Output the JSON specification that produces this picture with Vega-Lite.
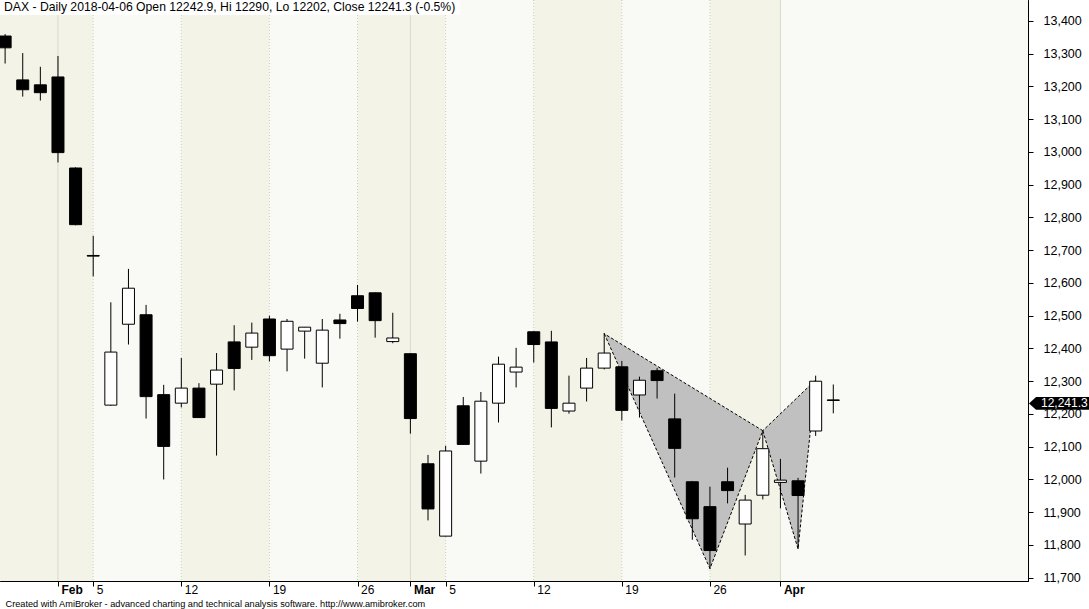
{
  "$schema": "https://vega.github.io/schema/vega-lite/v6.json",
  "width": 1028,
  "height": 581,
  "autosize": {"type": "none"},
  "padding": {"left": 0, "top": 0, "right": 61, "bottom": 28},
  "background": "white",
  "title": {
    "text": "DAX - Daily 2018-04-06 Open 12242.9, Hi 12290, Lo 12202, Close 12241.3 (-0.5%)",
    "anchor": "start",
    "orient": "top",
    "frame": "group",
    "offset": 0,
    "baseline": "alphabetic",
    "dx": 4,
    "dy": 23,
    "font": "Liberation Sans",
    "fontSize": 12.2,
    "fontWeight": "normal",
    "color": "black"
  },
  "config": {
    "view": {"stroke": "black", "strokeWidth": 1},
    "axis": {
      "labelFont": "Liberation Sans",
      "labelColor": "black",
      "labelFontSize": 12,
      "domainColor": "black",
      "tickColor": "black",
      "tickSize": 5,
      "grid": false,
      "labelOverlap": false,
      "labelFlush": false,
      "labelBound": false
    }
  },
  "datasets": {
    "ohlc": [
      {"i": 0, "date": "2018-01-29", "o": 13354, "h": 13360, "l": 13270, "c": 13318},
      {"i": 1, "date": "2018-01-30", "o": 13220, "h": 13302, "l": 13169, "c": 13190},
      {"i": 2, "date": "2018-01-31", "o": 13205, "h": 13260, "l": 13157, "c": 13181},
      {"i": 3, "date": "2018-02-01", "o": 13229, "h": 13293, "l": 12968, "c": 12998},
      {"i": 4, "date": "2018-02-02", "o": 12951, "h": 12953, "l": 12776, "c": 12778},
      {"i": 5, "date": "2018-02-05", "o": 12684, "h": 12744, "l": 12620, "c": 12682},
      {"i": 6, "date": "2018-02-06", "o": 12227, "h": 12541, "l": 12225, "c": 12389},
      {"i": 7, "date": "2018-02-07", "o": 12474, "h": 12643, "l": 12412, "c": 12584},
      {"i": 8, "date": "2018-02-08", "o": 12503, "h": 12533, "l": 12186, "c": 12253},
      {"i": 9, "date": "2018-02-09", "o": 12259, "h": 12289, "l": 12000, "c": 12101},
      {"i": 10, "date": "2018-02-12", "o": 12233, "h": 12371, "l": 12220, "c": 12279},
      {"i": 11, "date": "2018-02-13", "o": 12279, "h": 12294, "l": 12188, "c": 12189},
      {"i": 12, "date": "2018-02-14", "o": 12291, "h": 12386, "l": 12073, "c": 12334},
      {"i": 13, "date": "2018-02-15", "o": 12420, "h": 12471, "l": 12272, "c": 12339},
      {"i": 14, "date": "2018-02-16", "o": 12404, "h": 12479, "l": 12365, "c": 12447},
      {"i": 15, "date": "2018-02-19", "o": 12490, "h": 12500, "l": 12360, "c": 12378},
      {"i": 16, "date": "2018-02-20", "o": 12398, "h": 12490, "l": 12330, "c": 12483},
      {"i": 17, "date": "2018-02-21", "o": 12453, "h": 12465, "l": 12369, "c": 12465},
      {"i": 18, "date": "2018-02-22", "o": 12355, "h": 12490, "l": 12281, "c": 12456},
      {"i": 19, "date": "2018-02-23", "o": 12487, "h": 12506, "l": 12430, "c": 12476},
      {"i": 20, "date": "2018-02-26", "o": 12561, "h": 12594, "l": 12482, "c": 12522},
      {"i": 21, "date": "2018-02-27", "o": 12570, "h": 12571, "l": 12433, "c": 12485},
      {"i": 22, "date": "2018-02-28", "o": 12421, "h": 12509, "l": 12416, "c": 12432},
      {"i": 23, "date": "2018-03-01", "o": 12384, "h": 12385, "l": 12140, "c": 12186},
      {"i": 24, "date": "2018-03-02", "o": 12048, "h": 12075, "l": 11875, "c": 11910},
      {"i": 25, "date": "2018-03-05", "o": 11827, "h": 12103, "l": 11826, "c": 12087},
      {"i": 26, "date": "2018-03-06", "o": 12225, "h": 12252, "l": 12106, "c": 12107},
      {"i": 27, "date": "2018-03-07", "o": 12056, "h": 12267, "l": 12018, "c": 12239},
      {"i": 28, "date": "2018-03-08", "o": 12233, "h": 12375, "l": 12174, "c": 12352},
      {"i": 29, "date": "2018-03-09", "o": 12328, "h": 12402, "l": 12281, "c": 12343},
      {"i": 30, "date": "2018-03-12", "o": 12451, "h": 12452, "l": 12357, "c": 12412},
      {"i": 31, "date": "2018-03-13", "o": 12420, "h": 12454, "l": 12159, "c": 12217},
      {"i": 32, "date": "2018-03-14", "o": 12209, "h": 12317, "l": 12201, "c": 12233},
      {"i": 33, "date": "2018-03-15", "o": 12279, "h": 12371, "l": 12238, "c": 12340},
      {"i": 34, "date": "2018-03-16", "o": 12340, "h": 12447, "l": 12336, "c": 12386},
      {"i": 35, "date": "2018-03-19", "o": 12344, "h": 12362, "l": 12180, "c": 12211},
      {"i": 36, "date": "2018-03-20", "o": 12258, "h": 12314, "l": 12189, "c": 12303},
      {"i": 37, "date": "2018-03-21", "o": 12332, "h": 12340, "l": 12247, "c": 12302},
      {"i": 38, "date": "2018-03-22", "o": 12185, "h": 12262, "l": 12006, "c": 12095},
      {"i": 39, "date": "2018-03-23", "o": 11993, "h": 11995, "l": 11816, "c": 11880},
      {"i": 40, "date": "2018-03-26", "o": 11917, "h": 11978, "l": 11727, "c": 11783},
      {"i": 41, "date": "2018-03-27", "o": 11993, "h": 12036, "l": 11927, "c": 11966},
      {"i": 42, "date": "2018-03-28", "o": 11864, "h": 11953, "l": 11768, "c": 11937},
      {"i": 43, "date": "2018-03-29", "o": 11952, "h": 12149, "l": 11939, "c": 12094},
      {"i": 44, "date": "2018-04-03", "o": 11991, "h": 12063, "l": 11912, "c": 11998},
      {"i": 45, "date": "2018-04-04", "o": 11996, "h": 12005, "l": 11788, "c": 11951},
      {"i": 46, "date": "2018-04-05", "o": 12148, "h": 12317, "l": 12133, "c": 12300},
      {"i": 47, "date": "2018-04-06", "o": 12242.9, "h": 12290, "l": 12202, "c": 12241.3}
    ],
    "bands": [
      {"s": -1, "e": 5, "b": "dark"},
      {"s": 5, "e": 10, "b": "light"},
      {"s": 10, "e": 15, "b": "dark"},
      {"s": 15, "e": 20, "b": "light"},
      {"s": 20, "e": 25, "b": "dark"},
      {"s": 25, "e": 30, "b": "light"},
      {"s": 30, "e": 35, "b": "dark"},
      {"s": 35, "e": 40, "b": "light"},
      {"s": 40, "e": 44, "b": "dark"},
      {"s": 44, "e": 60, "b": "light"}
    ],
    "grid": [
      {"i": 3, "k": "month"},
      {"i": 5, "k": "week"},
      {"i": 10, "k": "week"},
      {"i": 15, "k": "week"},
      {"i": 20, "k": "week"},
      {"i": 23, "k": "month"},
      {"i": 25, "k": "week"},
      {"i": 30, "k": "week"},
      {"i": 35, "k": "week"},
      {"i": 40, "k": "week"},
      {"i": 44, "k": "month"}
    ],
    "pattern": [
      {"tri": "XAB", "ord": 1, "pt": "X", "i": 34, "p": 12445},
      {"tri": "XAB", "ord": 2, "pt": "A", "i": 40, "p": 11728},
      {"tri": "XAB", "ord": 3, "pt": "B", "i": 43, "p": 12149},
      {"tri": "XAB", "ord": 4, "pt": "X", "i": 34, "p": 12445},
      {"tri": "BCD", "ord": 1, "pt": "B", "i": 43, "p": 12149},
      {"tri": "BCD", "ord": 2, "pt": "C", "i": 45, "p": 11788},
      {"tri": "BCD", "ord": 3, "pt": "D", "i": 46, "p": 12304},
      {"tri": "BCD", "ord": 4, "pt": "B", "i": 43, "p": 12149}
    ]
  },
  "layer": [
    {
      "data": {"name": "bands"},
      "mark": {"type": "rect", "clip": true},
      "encoding": {
        "x": {"field": "s", "type": "quantitative", "scale": {"domain": [-0.29, 58.05], "nice": false, "zero": false, "padding": 0},
          "axis": {"orient": "bottom", "values": [3, 5, 10, 15, 20, 23, 25, 30, 35, 40, 44], "labelExpr": "datum.value==3?'Feb':datum.value==5?'5':datum.value==10?'12':datum.value==15?'19':datum.value==20?'26':datum.value==23?'Mar':datum.value==25?'5':datum.value==30?'12':datum.value==35?'19':datum.value==40?'26':datum.value==44?'Apr':''", "labelFontWeight": {"condition": {"test": "datum.value==3||datum.value==23||datum.value==44", "value": "bold"}, "value": "normal"}, "labelAlign": "left", "labelBaseline": "alphabetic", "labelOffset": 3, "labelPadding": 7, "title": "Created with AmiBroker - advanced charting and technical analysis software. http://www.amibroker.com", "titleFont": "Liberation Sans", "titleFontSize": 9.2, "titleFontWeight": "normal", "titleColor": "black", "titleAlign": "left", "titleAnchor": "start", "titleBaseline": "alphabetic", "titleX": 5, "titleY": 25}},
        "x2": {"field": "e"},
        "fill": {"condition": {"test": "datum.b=='dark'", "value": "#f3f3e8"}, "value": "#f9faf5"}
      }
    },
    {
      "data": {"name": "grid"},
      "mark": {"type": "rule", "strokeWidth": 1, "clip": true},
      "encoding": {
        "x": {"field": "i", "type": "quantitative", "scale": {"domain": [-0.29, 58.05], "nice": false, "zero": false, "padding": 0},
          "axis": {"orient": "bottom", "values": [3, 5, 10, 15, 20, 23, 25, 30, 35, 40, 44], "labelExpr": "datum.value==3?'Feb':datum.value==5?'5':datum.value==10?'12':datum.value==15?'19':datum.value==20?'26':datum.value==23?'Mar':datum.value==25?'5':datum.value==30?'12':datum.value==35?'19':datum.value==40?'26':datum.value==44?'Apr':''", "labelFontWeight": {"condition": {"test": "datum.value==3||datum.value==23||datum.value==44", "value": "bold"}, "value": "normal"}, "labelAlign": "left", "labelBaseline": "alphabetic", "labelOffset": 3, "labelPadding": 7, "title": "Created with AmiBroker - advanced charting and technical analysis software. http://www.amibroker.com", "titleFont": "Liberation Sans", "titleFontSize": 9.2, "titleFontWeight": "normal", "titleColor": "black", "titleAlign": "left", "titleAnchor": "start", "titleBaseline": "alphabetic", "titleX": 5, "titleY": 25}},
        "color": {"condition": {"test": "datum.k=='month'", "value": "#d8dbc4"}, "value": "#cdd0b4"},
        "strokeDash": {"condition": {"test": "datum.k=='week'", "value": [1, 2]}, "value": [1, 0]}
      }
    },
    {
      "data": {"name": "ohlc"},
      "transform": [{"filter": "datum.i == 47"}],
      "mark": {"type": "rect", "fill": "white", "clip": true},
      "encoding": {
        "x": {"datum": -1, "type": "quantitative", "scale": {"domain": [-0.29, 58.05], "nice": false, "zero": false, "padding": 0},
          "axis": {"orient": "bottom", "values": [3, 5, 10, 15, 20, 23, 25, 30, 35, 40, 44], "labelExpr": "datum.value==3?'Feb':datum.value==5?'5':datum.value==10?'12':datum.value==15?'19':datum.value==20?'26':datum.value==23?'Mar':datum.value==25?'5':datum.value==30?'12':datum.value==35?'19':datum.value==40?'26':datum.value==44?'Apr':''", "labelFontWeight": {"condition": {"test": "datum.value==3||datum.value==23||datum.value==44", "value": "bold"}, "value": "normal"}, "labelAlign": "left", "labelBaseline": "alphabetic", "labelOffset": 3, "labelPadding": 7, "title": "Created with AmiBroker - advanced charting and technical analysis software. http://www.amibroker.com", "titleFont": "Liberation Sans", "titleFontSize": 9.2, "titleFontWeight": "normal", "titleColor": "black", "titleAlign": "left", "titleAnchor": "start", "titleBaseline": "alphabetic", "titleX": 5, "titleY": 25}},
        "x2": {"datum": 25.8},
        "y": {"datum": 13600, "type": "quantitative", "scale": {"domain": [11690, 13464], "nice": false, "zero": false, "padding": 0},
          "axis": {"orient": "right", "values": [11700, 11800, 11900, 12000, 12100, 12200, 12300, 12400, 12500, 12600, 12700, 12800, 12900, 13000, 13100, 13200, 13300, 13400], "labelExpr": "format(datum.value, ',')", "labelFontSize": 12.5, "labelAlign": "left", "labelBaseline": "middle", "labelPadding": 10, "title": null}},
        "y2": {"datum": 13418}
      }
    },
    {
      "data": {"name": "pattern"},
      "mark": {"type": "line", "fill": "#c0c0c0", "stroke": "black", "strokeWidth": 1, "strokeDash": [3, 2], "interpolate": "linear"},
      "encoding": {
        "x": {"field": "i", "type": "quantitative", "scale": {"domain": [-0.29, 58.05], "nice": false, "zero": false, "padding": 0},
          "axis": {"orient": "bottom", "values": [3, 5, 10, 15, 20, 23, 25, 30, 35, 40, 44], "labelExpr": "datum.value==3?'Feb':datum.value==5?'5':datum.value==10?'12':datum.value==15?'19':datum.value==20?'26':datum.value==23?'Mar':datum.value==25?'5':datum.value==30?'12':datum.value==35?'19':datum.value==40?'26':datum.value==44?'Apr':''", "labelFontWeight": {"condition": {"test": "datum.value==3||datum.value==23||datum.value==44", "value": "bold"}, "value": "normal"}, "labelAlign": "left", "labelBaseline": "alphabetic", "labelOffset": 3, "labelPadding": 7, "title": "Created with AmiBroker - advanced charting and technical analysis software. http://www.amibroker.com", "titleFont": "Liberation Sans", "titleFontSize": 9.2, "titleFontWeight": "normal", "titleColor": "black", "titleAlign": "left", "titleAnchor": "start", "titleBaseline": "alphabetic", "titleX": 5, "titleY": 25}},
        "y": {"field": "p", "type": "quantitative", "scale": {"domain": [11690, 13464], "nice": false, "zero": false, "padding": 0},
          "axis": {"orient": "right", "values": [11700, 11800, 11900, 12000, 12100, 12200, 12300, 12400, 12500, 12600, 12700, 12800, 12900, 13000, 13100, 13200, 13300, 13400], "labelExpr": "format(datum.value, ',')", "labelFontSize": 12.5, "labelAlign": "left", "labelBaseline": "middle", "labelPadding": 10, "title": null}},
        "detail": {"field": "tri"},
        "order": {"field": "ord", "type": "quantitative"}
      }
    },
    {
      "data": {"name": "ohlc"},
      "mark": {"type": "rule", "color": "black", "strokeWidth": 1},
      "encoding": {
        "x": {"field": "i", "type": "quantitative", "scale": {"domain": [-0.29, 58.05], "nice": false, "zero": false, "padding": 0},
          "axis": {"orient": "bottom", "values": [3, 5, 10, 15, 20, 23, 25, 30, 35, 40, 44], "labelExpr": "datum.value==3?'Feb':datum.value==5?'5':datum.value==10?'12':datum.value==15?'19':datum.value==20?'26':datum.value==23?'Mar':datum.value==25?'5':datum.value==30?'12':datum.value==35?'19':datum.value==40?'26':datum.value==44?'Apr':''", "labelFontWeight": {"condition": {"test": "datum.value==3||datum.value==23||datum.value==44", "value": "bold"}, "value": "normal"}, "labelAlign": "left", "labelBaseline": "alphabetic", "labelOffset": 3, "labelPadding": 7, "title": "Created with AmiBroker - advanced charting and technical analysis software. http://www.amibroker.com", "titleFont": "Liberation Sans", "titleFontSize": 9.2, "titleFontWeight": "normal", "titleColor": "black", "titleAlign": "left", "titleAnchor": "start", "titleBaseline": "alphabetic", "titleX": 5, "titleY": 25}},
        "y": {"field": "l", "type": "quantitative", "scale": {"domain": [11690, 13464], "nice": false, "zero": false, "padding": 0},
          "axis": {"orient": "right", "values": [11700, 11800, 11900, 12000, 12100, 12200, 12300, 12400, 12500, 12600, 12700, 12800, 12900, 13000, 13100, 13200, 13300, 13400], "labelExpr": "format(datum.value, ',')", "labelFontSize": 12.5, "labelAlign": "left", "labelBaseline": "middle", "labelPadding": 10, "title": null}},
        "y2": {"field": "h"}
      }
    },
    {
      "data": {"name": "ohlc"},
      "mark": {"type": "bar", "size": 12, "stroke": "black", "strokeWidth": 1, "clip": true},
      "encoding": {
        "x": {"field": "i", "type": "quantitative", "scale": {"domain": [-0.29, 58.05], "nice": false, "zero": false, "padding": 0},
          "axis": {"orient": "bottom", "values": [3, 5, 10, 15, 20, 23, 25, 30, 35, 40, 44], "labelExpr": "datum.value==3?'Feb':datum.value==5?'5':datum.value==10?'12':datum.value==15?'19':datum.value==20?'26':datum.value==23?'Mar':datum.value==25?'5':datum.value==30?'12':datum.value==35?'19':datum.value==40?'26':datum.value==44?'Apr':''", "labelFontWeight": {"condition": {"test": "datum.value==3||datum.value==23||datum.value==44", "value": "bold"}, "value": "normal"}, "labelAlign": "left", "labelBaseline": "alphabetic", "labelOffset": 3, "labelPadding": 7, "title": "Created with AmiBroker - advanced charting and technical analysis software. http://www.amibroker.com", "titleFont": "Liberation Sans", "titleFontSize": 9.2, "titleFontWeight": "normal", "titleColor": "black", "titleAlign": "left", "titleAnchor": "start", "titleBaseline": "alphabetic", "titleX": 5, "titleY": 25}},
        "y": {"field": "o", "type": "quantitative", "scale": {"domain": [11690, 13464], "nice": false, "zero": false, "padding": 0},
          "axis": {"orient": "right", "values": [11700, 11800, 11900, 12000, 12100, 12200, 12300, 12400, 12500, 12600, 12700, 12800, 12900, 13000, 13100, 13200, 13300, 13400], "labelExpr": "format(datum.value, ',')", "labelFontSize": 12.5, "labelAlign": "left", "labelBaseline": "middle", "labelPadding": 10, "title": null}},
        "y2": {"field": "c"},
        "fill": {"condition": {"test": "datum.c < datum.o", "value": "black"}, "value": "white"}
      }
    },
    {
      "data": {"name": "ohlc"},
      "transform": [{"filter": "datum.i == 47"}],
      "mark": {"type": "point", "shape": "M-1,0L-0.78,-0.2L1,-0.2L1,0.2L-0.78,0.2Z", "size": 4096, "filled": true, "color": "black", "opacity": 1, "strokeWidth": 0, "x": "width", "xOffset": 33, "yOffset": 3},
      "encoding": {
        "y": {"field": "c", "type": "quantitative", "scale": {"domain": [11690, 13464], "nice": false, "zero": false, "padding": 0},
          "axis": {"orient": "right", "values": [11700, 11800, 11900, 12000, 12100, 12200, 12300, 12400, 12500, 12600, 12700, 12800, 12900, 13000, 13100, 13200, 13300, 13400], "labelExpr": "format(datum.value, ',')", "labelFontSize": 12.5, "labelAlign": "left", "labelBaseline": "middle", "labelPadding": 10, "title": null}}
      }
    },
    {
      "data": {"name": "ohlc"},
      "transform": [{"filter": "datum.i == 47"}],
      "mark": {"type": "text", "x": "width", "dx": 13, "dy": 3, "align": "left", "baseline": "middle", "color": "white", "font": "Liberation Sans", "fontSize": 12},
      "encoding": {
        "y": {"field": "c", "type": "quantitative", "scale": {"domain": [11690, 13464], "nice": false, "zero": false, "padding": 0},
          "axis": {"orient": "right", "values": [11700, 11800, 11900, 12000, 12100, 12200, 12300, 12400, 12500, 12600, 12700, 12800, 12900, 13000, 13100, 13200, 13300, 13400], "labelExpr": "format(datum.value, ',')", "labelFontSize": 12.5, "labelAlign": "left", "labelBaseline": "middle", "labelPadding": 10, "title": null}},
        "text": {"field": "c", "type": "quantitative", "format": ",.1f"}
      }
    }
  ]
}
